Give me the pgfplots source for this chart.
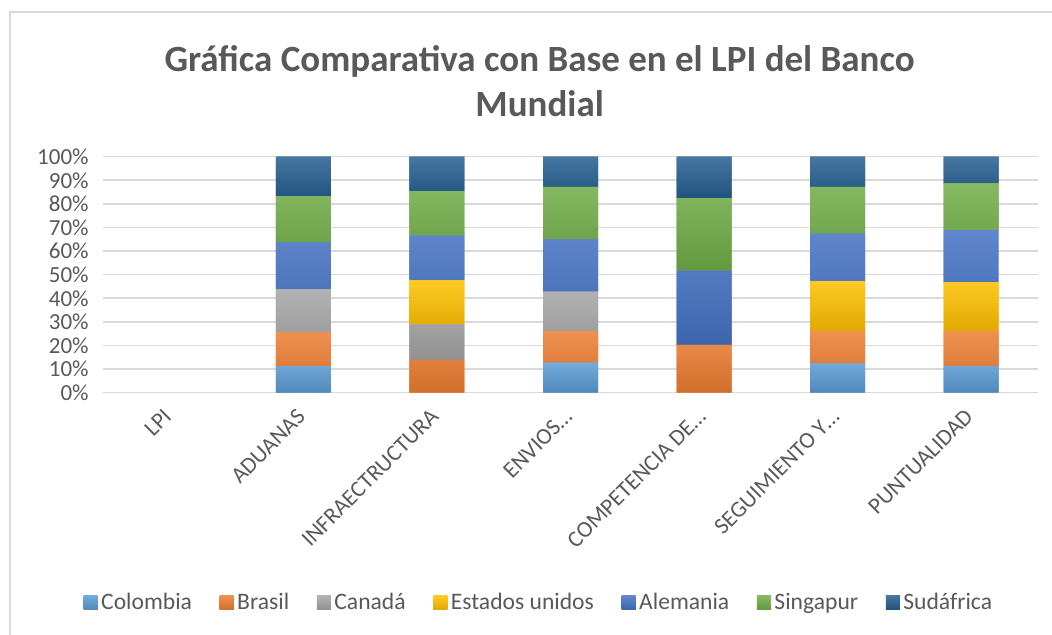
\documentclass[border=0pt]{standalone}
\usepackage{pgfplots}
\pgfplotsset{compat=1.18}
\usepackage{fontspec}
\setmainfont{Carlito}
\definecolor{cCol}{HTML}{5B9BD5}
\definecolor{cBra}{HTML}{ED7D31}
\definecolor{cCan}{HTML}{A5A5A5}
\definecolor{cEU}{HTML}{FFC000}
\definecolor{cAle}{HTML}{4472C4}
\definecolor{cSin}{HTML}{70AD47}
\definecolor{cSud}{HTML}{255E91}
\definecolor{txt}{HTML}{595959}
\definecolor{gridc}{HTML}{D9D9D9}
\pgfplotsset{
  grad/.style={fill=#1, top color=#1!85!white, middle color=#1, bottom color=#1!88!black, draw=none},
}
\begin{document}
\begin{tikzpicture}
\useasboundingbox (-51.5pt,-121.15pt) rectangle (474.5pt,196.35pt);
\draw[gridc, line width=0.8pt] (-46.5pt,-130pt) -- (-46.5pt,190.35pt) -- (480pt,190.35pt);
\begin{axis}[
  scale only axis,
  width=467.5pt, height=118pt,
  ybar stacked,
  bar width=27.5pt,
  xmin=-0.5, xmax=6.5,
  ymin=0, ymax=100,
  axis line style={draw=none},
  ymajorgrids=true, xmajorgrids=false,
  y grid style={gridc, line width=0.8pt},
  ytick={0,10,...,100},
  yticklabels={0\%,10\%,20\%,30\%,40\%,50\%,60\%,70\%,80\%,90\%,100\%},
  xtick={0,1,2,3,4,5,6},
  xticklabels={LPI,ADUANAS,INFRAECTRUCTURA,ENVIOS…,COMPETENCIA DE…,SEGUIMIENTO Y…,PUNTUALIDAD},
  major tick length=0pt,
  tick style={draw=none},
  tick label style={font=\fontsize{11.5}{13}\selectfont, text=txt},
  xticklabel style={font=\fontsize{11.5}{13}\selectfont, rotate=45, anchor=east, inner sep=0pt, xshift=-7.8pt, yshift=-6.4pt},
  yticklabel style={xshift=-7pt, inner sep=0pt},
  legend columns=7,
  legend style={draw=none, at={(0.467,-0.89)}, anchor=center, font=\fontsize{11.8}{13}\selectfont, text=txt,
    /tikz/every even column/.append style={column sep=12pt}, nodes={inner sep=1.8pt}},
  legend image code/.code={\fill[#1,draw=none] (0pt,-3.5pt) rectangle (7pt,3.5pt);},
  clip=false,
]
\addplot[grad=cCol] coordinates {(1,11.3) (2,0) (3,12.7) (4,0) (5,12.4) (6,11.3)};
\addplot[grad=cBra] coordinates {(1,14.3) (2,13.9) (3,13.4) (4,20.3) (5,13.7) (6,14.8)};
\addplot[grad=cCan] coordinates {(1,18.2) (2,15.1) (3,16.7) (4,0) (5,0) (6,0)};
\addplot[grad=cEU] coordinates {(1,0) (2,18.6) (3,0) (4,0) (5,21.2) (6,20.8)};
\addplot[grad=cAle] coordinates {(1,19.9) (2,19.0) (3,22.3) (4,31.4) (5,20.1) (6,22.0)};
\addplot[grad=cSin] coordinates {(1,19.6) (2,18.8) (3,22.1) (4,30.7) (5,19.8) (6,19.8)};
\addplot[grad=cSud] coordinates {(1,16.7) (2,14.6) (3,12.8) (4,17.6) (5,12.8) (6,11.3)};
\legend{Colombia,Brasil,Canadá,Estados unidos,Alemania,Singapur,Sudáfrica}
\node[font=\bfseries\fontsize{18.5}{22.5}\selectfont, text=txt, align=center, anchor=center]
  at (axis description cs:0.467,1) [yshift=38pt] {Gráfica Comparativa con Base en el LPI del Banco\\Mundial};
\end{axis}
\end{tikzpicture}
\end{document}
